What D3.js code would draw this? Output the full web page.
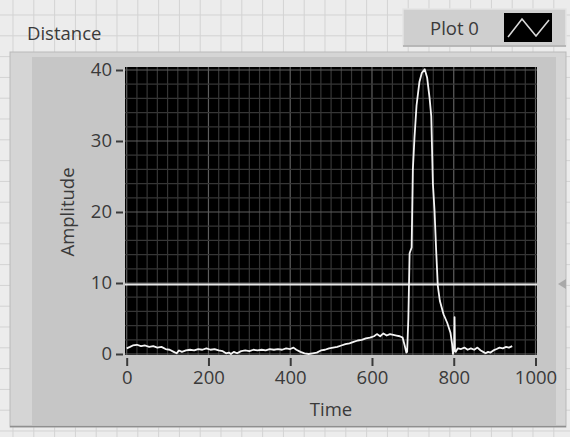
<!DOCTYPE html>
<html>
<head>
<meta charset="utf-8">
<script src="https://cdn.jsdelivr.net/npm/d3@7"></script>
<style>
  html, body { margin: 0; padding: 0; background: #ebebeb; }
  svg { display: block; }
  text { font-family: "Open Sans", "Noto Sans", sans-serif; fill: #3a3a3a; }
</style>
</head>
<body>
<svg id="chart" width="570" height="437"></svg>
<script>
// Waveform trace: time (s) and amplitude
const times = [0, 8, 15, 25, 35, 45, 55, 65, 75, 85, 95, 105, 115, 122, 128, 135, 145, 155, 165, 175,
  185, 195, 205, 215, 225, 235, 243, 250, 255, 262, 270, 280, 290, 300, 310, 320, 330, 340, 350, 360,
  370, 380, 390, 400, 408, 415, 425, 435, 445, 455, 465, 475, 485, 495, 505, 515, 525, 535, 545, 555,
  565, 575, 585, 595, 605, 612, 620, 628, 636, 644, 652, 660, 668, 675, 680, 684, 686, 689, 692, 697,
  700, 704, 709, 716, 722, 729, 735, 741, 745, 749, 753, 757, 761, 766, 775, 784, 792, 796, 798,
  801, 802, 803, 805, 810, 818, 826, 834, 842, 850, 858, 866, 872, 878, 884, 890, 897, 905, 912,
  920, 928, 935, 943];
const amplitude = [0.8, 1.0, 1.2, 1.3, 1.1, 1.2, 1.0, 1.1, 0.9, 1.0, 0.7, 0.6, 0.3, 0.1, 0.5, 0.3, 0.5, 0.6, 0.5, 0.7,
  0.6, 0.8, 0.6, 0.7, 0.5, 0.4, 0.1, 0.2, 0.0, 0.3, 0.1, 0.4, 0.5, 0.4, 0.6, 0.5, 0.6, 0.5, 0.7, 0.6,
  0.7, 0.6, 0.8, 0.7, 0.9, 0.6, 0.3, 0.1, 0.0, 0.1, 0.2, 0.5, 0.6, 0.8, 0.9, 1.0, 1.2, 1.4, 1.5, 1.7,
  1.9, 2.0, 2.2, 2.3, 2.5, 2.8, 2.5, 2.9, 2.6, 2.8, 2.7, 2.6, 2.5, 2.3, 1.2, 0.2, 0.3, 5.0, 14.2, 15.0,
  26.0, 30.5, 35.0, 38.3, 39.6, 40.1, 38.9, 36.0, 33.5, 24.0, 20.2, 14.6, 9.6, 7.5, 5.6, 4.4, 3.0, 1.4, 0.0,
  0.8, 5.2, 0.4, 0.3, 0.8, 0.7, 0.9, 0.6, 0.8, 0.6, 0.9, 0.5, 0.3, 0.1, 0.3, 0.2, 0.5, 0.7, 0.9,
  0.8, 1.0, 0.9, 1.1];
const thresholdLevel = 9.8;
const xTicks = [0, 200, 400, 600, 800, 1000];
const yTicks = [0, 10, 20, 30, 40];
const legendLabel = "Plot 0";
const chartTitle = "Distance";
const xTitle = "Time";
const yTitle = "Amplitude";

const svg = d3.select("#chart");
const W = 570, H = 437;

// Front-panel alignment grid
const bg = svg.append("g");
bg.append("rect").attr("width", W).attr("height", H).attr("fill", "#ececec");
bg.selectAll("line.vg").data(d3.range(13, W, 20.8)).join("line")
  .attr("x1", d => d).attr("x2", d => d).attr("y1", 0).attr("y2", H)
  .attr("stroke", "#d3d3d3").attr("stroke-width", 1);
bg.selectAll("line.hg").data(d3.range(15, H, 20.8)).join("line")
  .attr("y1", d => d).attr("y2", d => d).attr("x1", 0).attr("x2", W)
  .attr("stroke", "#d3d3d3").attr("stroke-width", 1);

// Chart frame
svg.append("rect").attr("x", 10).attr("y", 52).attr("width", 556).attr("height", 375)
  .attr("fill", "#d5d5d5").attr("stroke", "#b9b9b9").attr("stroke-width", 1);
svg.append("rect").attr("x", 32).attr("y", 57).attr("width", 524).attr("height", 368)
  .attr("fill", "#c6c6c6");
svg.append("line").attr("x1", 10).attr("x2", 566).attr("y1", 426.5).attr("y2", 426.5)
  .attr("stroke", "#8f8f8f").attr("stroke-width", 1.5);
// small scroll arrow on the right edge
svg.append("path").attr("d", "M558,284 L566,279 L566,289 Z").attr("fill", "#a9a9a9");

// Label
svg.append("text").attr("x", 27).attr("y", 40).attr("font-size", 18.5).text(chartTitle);

// Legend
const lg = svg.append("g");
lg.append("rect").attr("x", 403).attr("y", 9).attr("width", 163).attr("height", 37)
  .attr("fill", "#cfcfcf").attr("stroke", "#e4e4e4").attr("stroke-width", 1.5);
lg.append("line").attr("x1", 403).attr("x2", 566).attr("y1", 46).attr("y2", 46)
  .attr("stroke", "#a8a8a8").attr("stroke-width", 1.5);
lg.append("text").attr("x", 430).attr("y", 35).attr("font-size", 18.5).text(legendLabel);
lg.append("rect").attr("x", 504).attr("y", 13).attr("width", 48).attr("height", 29).attr("fill", "#000");
lg.append("path").attr("d", "M508,37 L522,19 L536,36 L549,20")
  .attr("fill", "none").attr("stroke", "#d8d8d8").attr("stroke-width", 1.6);

// Scales
const x = d3.scaleLinear().domain([0, 1000]).range([126.7, 535.5]);
const y = d3.scaleLinear().domain([0, 40]).range([354, 70]);

// Plot area
svg.append("rect").attr("x", 125).attr("y", 67).attr("width", 412).attr("height", 288).attr("fill", "#000");

const grid = svg.append("g");
const xMinor = d3.range(0, 1001, 25);
const yMinor = d3.range(0, 41, 2);
grid.selectAll("line.xg").data(xMinor).join("line")
  .attr("x1", d => x(d)).attr("x2", d => x(d)).attr("y1", 67).attr("y2", 355)
  .attr("stroke", d => d % 200 === 0 ? "#5e5e5e" : "#363636").attr("stroke-width", 1.2);
grid.selectAll("line.yg").data(yMinor).join("line")
  .attr("y1", d => y(d)).attr("y2", d => y(d)).attr("x1", 125).attr("x2", 537)
  .attr("stroke", d => d % 10 === 0 ? "#5e5e5e" : "#363636").attr("stroke-width", 1.2);

// Threshold line
svg.append("line").attr("x1", 125).attr("x2", 537)
  .attr("y1", y(thresholdLevel)).attr("y2", y(thresholdLevel))
  .attr("stroke", "#e6e6e6").attr("stroke-width", 2);

// Trace
const pts = times.map((t, i) => [t, amplitude[i]]);
svg.append("path").datum(pts)
  .attr("d", d3.line().x(d => x(d[0])).y(d => y(d[1])))
  .attr("fill", "none").attr("stroke", "#f4f4f4").attr("stroke-width", 1.8)
  .attr("stroke-linejoin", "round");

// Axes
const xAxis = svg.append("g").attr("transform", "translate(0,358)")
  .call(d3.axisBottom(x).tickValues(xTicks).tickFormat(d3.format("d"))
    .tickSize(8).tickPadding(5).tickSizeOuter(0));
const yAxis = svg.append("g").attr("transform", "translate(123,0)")
  .call(d3.axisLeft(y).tickValues(yTicks).tickFormat(d3.format("d"))
    .tickSize(7).tickPadding(4).tickSizeOuter(0));
[xAxis, yAxis].forEach(a => {
  a.select(".domain").remove();
  a.selectAll(".tick line").attr("stroke", "#3a3a3a").attr("stroke-width", 2);
  a.selectAll(".tick text").attr("font-size", 18.5).attr("fill", "#3a3a3a")
    .attr("font-family", "'Open Sans', 'Noto Sans', sans-serif");
});

// Axis titles
svg.append("text").attr("x", 331).attr("y", 416).attr("text-anchor", "middle")
  .attr("font-size", 18.5).text(xTitle);
svg.append("text").attr("transform", "translate(74,212) rotate(-90)").attr("text-anchor", "middle")
  .attr("font-size", 18.5).text(yTitle);
</script>
</body>
</html>
